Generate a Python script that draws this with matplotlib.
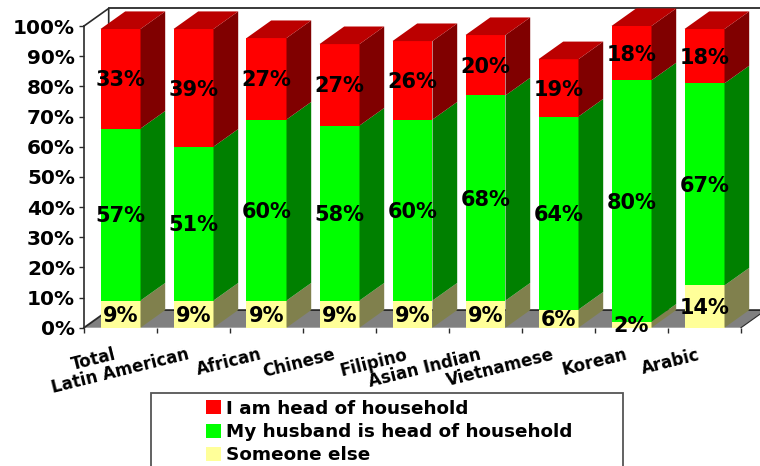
import numpy as np
import matplotlib
matplotlib.use("Agg")
import matplotlib.pyplot as plt
from matplotlib.patches import Polygon, Rectangle, Patch
from matplotlib.transforms import ScaledTranslation

# ── Data ──────────────────────────────────────────────────────────────────────
categories = ["Total", "Latin American", "African", "Chinese", "Filipino",
              "Asian Indian", "Vietnamese", "Korean", "Arabic"]
someone_else = [9, 9, 9, 9, 9, 9, 6, 2, 14]
husband_head = [57, 51, 60, 58, 60, 68, 64, 80, 67]
i_am_head = [33, 39, 27, 27, 26, 20, 19, 18, 18]
y_ticks = list(range(0, 101, 10))

# ── Style ─────────────────────────────────────────────────────────────────────
W, H = 760, 466
LEFT, RIGHT, Y0, Y100 = 84, 741, 327.7, 26
DX = 24.7 / ((RIGHT - LEFT) / 9)
DY = 17.6 / ((Y0 - Y100) / 100)
BAR_W = 40 / ((RIGHT - LEFT) / 9)
LINE = "#2a2a2a"

plt.rcParams["font.family"] = "DejaVu Sans"
plt.rcParams["font.weight"] = "bold"

fig = plt.figure(figsize=(W / 100, H / 100), dpi=100, facecolor="white")
ax = fig.add_axes([LEFT / W, 1 - Y0 / H, (RIGHT - LEFT) / W, (Y0 - Y100) / H])
ax.set_xlim(0, 9)
ax.set_ylim(0, 100)
ax.patch.set_visible(False)
for name in ["top", "right", "bottom"]:
    ax.spines[name].set_visible(False)
ax.spines["left"].set_color(LINE)
ax.spines["left"].set_linewidth(1.2)


def poly(points, color, z, edge="none"):
    ax.add_patch(Polygon(points, closed=True, facecolor=color, edgecolor=edge,
                         linewidth=0.8, zorder=z, clip_on=False))


# ── Walls and floor ───────────────────────────────────────────────────────────
poly([(0, 0), (9, 0), (9 + DX, DY), (DX, DY)], "#808080", 1)
ax.plot([0, DX, 9 + DX], [0, DY, DY], color=LINE, lw=1.3, zorder=1.5, clip_on=False)
ax.plot([9, 9 + DX], [0, DY], color=LINE, lw=0.8, zorder=1.5, clip_on=False)
ax.plot([0, DX, DX], [100, 100 + DY, DY], color=LINE, lw=1.2, zorder=1.5, clip_on=False)
ax.plot([DX, 9 + DX], [100 + DY, 100 + DY], color=LINE, lw=1.3, zorder=1.5, clip_on=False)

# ── Bars ──────────────────────────────────────────────────────────────────────
x = np.arange(len(categories)) + 0.5
series = [
    (someone_else, "#FFFF99", "#80804D", "Someone else"),
    (husband_head, "#00FF00", "#008000", "My husband is head of household"),
    (i_am_head, "#FF0000", "#800000", "I am head of household"),
]
bottom = np.zeros(len(categories))
for values, front, side, label in series:
    values = np.array(values)
    ax.bar(x, values, BAR_W, bottom=bottom, color=front, zorder=3)
    for xc, b, v in zip(x, bottom, values):
        r = xc + BAR_W / 2
        poly([(r, b), (r + DX, b + DY), (r + DX, b + v + DY), (r, b + v)], side, 3)
        ax.annotate(f"{v}%", (xc, b + v / 2), xytext=(0, -1.2), textcoords="offset points",
                    ha="center", va="center", fontsize=15, color="black",
                    zorder=6, annotation_clip=False)
    bottom = bottom + values

# top faces of the stacks
for xc, t in zip(x, bottom):
    l, r = xc - BAR_W / 2, xc + BAR_W / 2
    poly([(l, t), (r, t), (r + DX, t + DY), (l + DX, t + DY)], "#BB0000", 3)

# ── Axes ──────────────────────────────────────────────────────────────────────
ax.set_yticks(y_ticks, [f"{t}%" for t in y_ticks], fontsize=14.4)
ax.tick_params(axis="y", length=3.5, width=1.0, color=LINE, pad=3)
ax.set_xticks(range(len(categories) + 1), [""] * (len(categories) + 1))
ax.tick_params(axis="x", which="major", length=3.5, width=1.0, color=LINE)
ax.set_xticks(x, categories, minor=True, rotation=14, ha="right",
              rotation_mode="anchor", fontsize=12)
ax.tick_params(axis="x", which="minor", length=0, pad=13)
shift = ScaledTranslation(-5 / 72, 0, fig.dpi_scale_trans)
for lbl in ax.get_xticklabels(minor=True):
    lbl.set_transform(lbl.get_transform() + shift)

# ── Legend ────────────────────────────────────────────────────────────────────
fig.add_artist(Rectangle((151 / W, -0.05), 472 / W, 1 - 392.7 / H + 0.05,
                         facecolor="white", edgecolor="#555555", linewidth=1.3,
                         transform=fig.transFigure))
handles = [Patch(facecolor=s[1], label=s[3]) for s in reversed(series)]
fig.legend(handles=handles, loc="upper left", frameon=False,
           bbox_to_anchor=(206 / W, 1 - 399.5 / H), borderaxespad=0, borderpad=0,
           fontsize=13.2, handlelength=0.8, handleheight=0.8, handletextpad=0.3,
           labelspacing=0.3)

fig.savefig("out.png", dpi=100, facecolor="white")
